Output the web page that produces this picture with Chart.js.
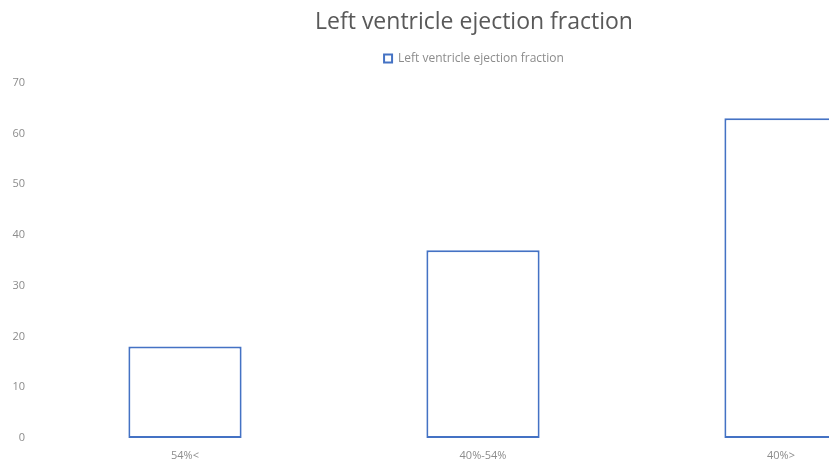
<!DOCTYPE html>
<html>
<head>
<meta charset="utf-8">
<script src="https://cdn.jsdelivr.net/npm/chart.js@4/dist/chart.umd.min.js"></script>
<style>
 html,body{margin:0;padding:0;background:#fff;overflow:hidden}
 #wrap{width:946px;height:461px;position:relative}
</style>
</head>
<body>
<div id="wrap"><canvas id="c"></canvas></div>
<script>
const categories=['54%<','40%-54%','40%>'];
const values=[18,37,63];
const seriesName='Left ventricle ejection fraction';
const yTicks={min:0,max:70,step:10};

(function(){
 const grey='#8c8c8c', blue='#4472C4';
 const font='"Open Sans", sans-serif';
 // extra room under the legend, and centre title/legend on the full width
 const tweak={id:'tweak',
  beforeInit(chart){const f=chart.legend.fit;chart.legend.fit=function(){f.call(this);this.height+=8;};},
  afterLayout(chart){[chart.titleBlock,chart.legend].forEach(b=>{if(b){b.left+=9;b.right+=9;}});}
 };
 new Chart(document.getElementById('c'),{
  type:'bar',
  data:{labels:categories,datasets:[{label:seriesName,data:values,backgroundColor:'#fff',borderColor:blue,borderWidth:2,borderSkipped:false,barPercentage:0.38,categoryPercentage:1}]},
  options:{
   responsive:true,maintainAspectRatio:false,animation:false,
   layout:{padding:{top:0,right:16,bottom:0,left:0}},
   plugins:{
    title:{display:true,text:seriesName,color:'#595959',font:{family:font,size:23,weight:'normal'},padding:{top:9,bottom:6}},
    legend:{labels:{color:grey,font:{family:font,size:12},boxWidth:8,boxHeight:8,padding:10}},
    tooltip:{enabled:false}
   },
   scales:{
    x:{grid:{display:false,drawTicks:false},border:{display:false},ticks:{color:grey,font:{family:font,size:11},padding:11},
       afterFit:s=>{s.height=23}},
    y:{min:yTicks.min,max:yTicks.max,grid:{display:false,drawTicks:false},border:{display:false},
       ticks:{stepSize:yTicks.step,color:grey,font:{family:font,size:11},padding:11},
       afterFit:s=>{s.width=36}}
   }
  },
  plugins:[tweak]
 });
})();
</script>
</body>
</html>
